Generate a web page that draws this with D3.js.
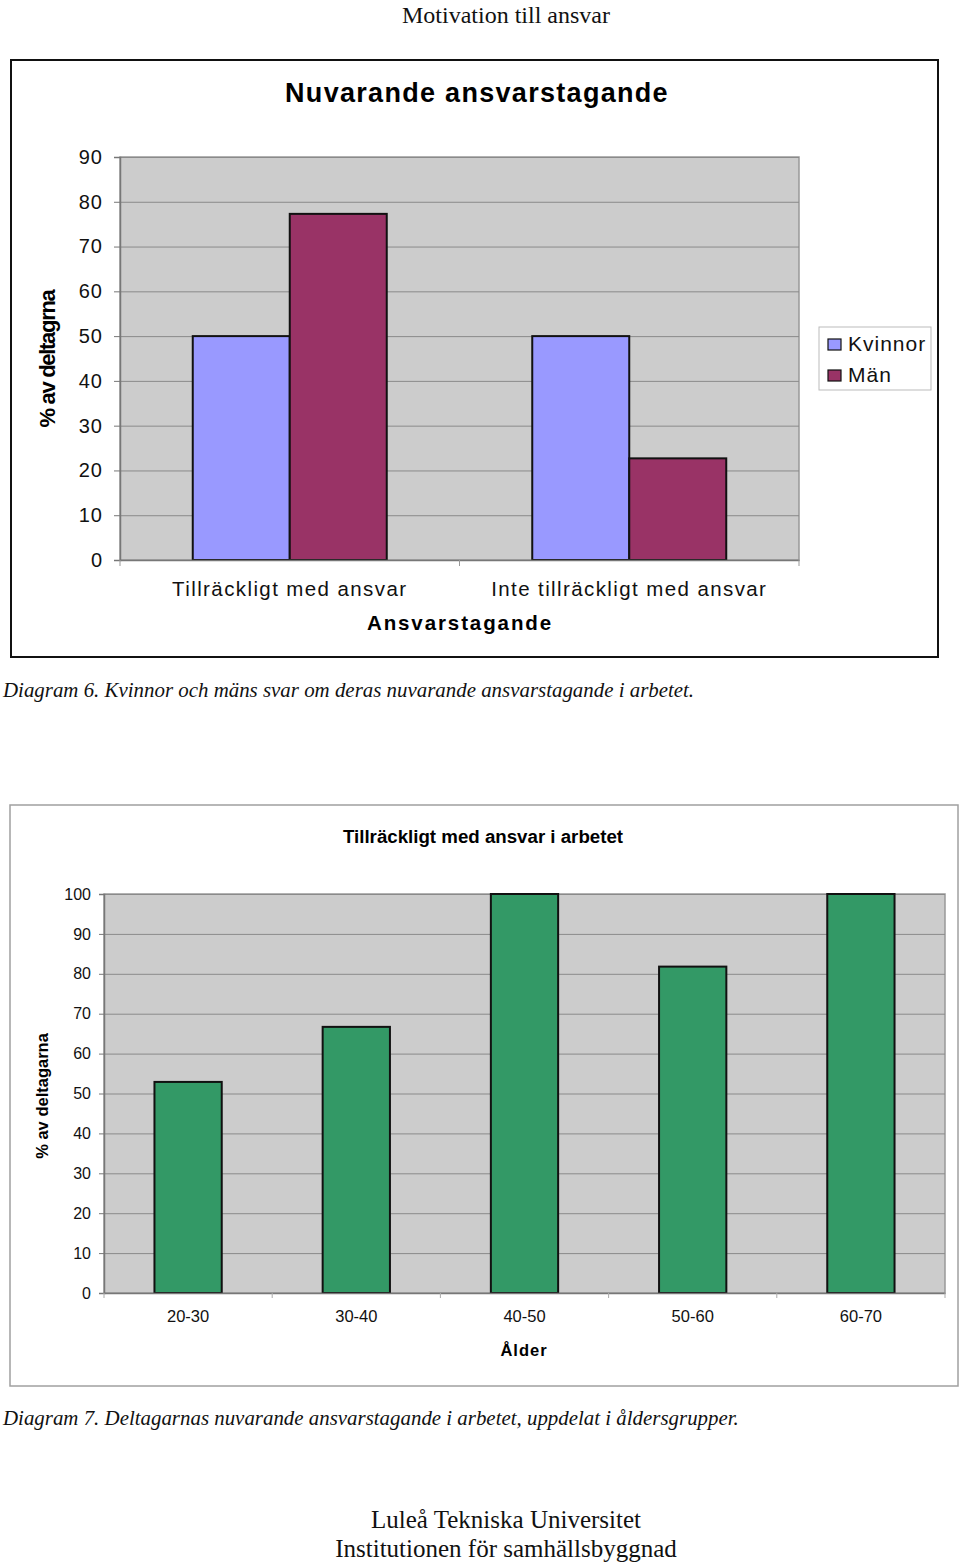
<!DOCTYPE html>
<html><head><meta charset="utf-8">
<script src="https://cdn.jsdelivr.net/npm/d3@7"></script>
<style>
html,body{margin:0;padding:0;background:#fff;}
svg{display:block;}
</style></head>
<body>
<svg id="page" width="960" height="1563"></svg>
<script>
// ---- Data ----
const chart1Categories = ["Tillräckligt med ansvar", "Inte tillräckligt med ansvar"];
const chart1Series = ["Kvinnor", "Män"];
const kvinnorValues = [50, 50];
const manValues = [77.3, 22.7];
const chart1Ticks = [0, 10, 20, 30, 40, 50, 60, 70, 80, 90];

const chart2Categories = ["20-30", "30-40", "40-50", "50-60", "60-70"];
const chart2Values = [52.9, 66.7, 100, 81.8, 100];
const chart2Ticks = [0, 10, 20, 30, 40, 50, 60, 70, 80, 90, 100];

const colors = {Kvinnor: "#9999FF", "Män": "#993366", green: "#339966"};

const svg = d3.select("#page");
const serif = "'Liberation Serif','Times New Roman',serif";
const sans = "'Liberation Sans',Arial,sans-serif";

// Page header
svg.append("text").attr("x", 506).attr("y", 23).attr("text-anchor", "middle")
  .attr("font-family", serif).attr("font-size", 24).attr("fill", "#111").text("Motivation till ansvar");

// ================= Chart 1 =================
const c1 = svg.append("g");
c1.append("rect").attr("x", 11).attr("y", 60).attr("width", 927).attr("height", 597)
  .attr("fill", "#fff").attr("stroke", "#111").attr("stroke-width", 2);

c1.append("text").attr("x", 477).attr("y", 102).attr("text-anchor", "middle")
  .attr("font-family", sans).attr("font-weight", "bold").attr("font-size", 27)
  .attr("letter-spacing", 1.3).text("Nuvarande ansvarstagande");

const p1 = {l: 120, r: 799, t: 157, b: 560};
const y1 = d3.scaleLinear().domain([0, 90]).range([p1.b, p1.t]);
const x1 = d3.scaleBand().domain(chart1Categories).range([p1.l, p1.r]).padding(0);
const xs1 = d3.scaleBand().domain(chart1Series).range([0, x1.bandwidth()]).paddingInner(0).paddingOuter(0.75);

c1.append("rect").attr("x", p1.l).attr("y", p1.t).attr("width", p1.r - p1.l).attr("height", p1.b - p1.t)
  .attr("fill", "#CCCCCC").attr("stroke", "#999").attr("stroke-width", 1.5);

// gridlines
c1.append("g").attr("transform", `translate(${p1.l},0)`)
  .call(d3.axisLeft(y1).tickValues(chart1Ticks).tickSize(-(p1.r - p1.l)).tickFormat(""))
  .call(g => g.select(".domain").remove())
  .call(g => g.selectAll("line").attr("stroke", "#8a8a8a").attr("stroke-width", 1));

// bars
const rows1 = chart1Categories.map((c, i) => ({cat: c, vals: [
  {s: "Kvinnor", v: kvinnorValues[i]}, {s: "Män", v: manValues[i]}]}));
const grp1 = c1.selectAll(".grp").data(rows1).join("g")
  .attr("transform", d => `translate(${x1(d.cat)},0)`);
grp1.selectAll("rect").data(d => d.vals).join("rect")
  .attr("x", d => xs1(d.s)).attr("width", xs1.bandwidth())
  .attr("y", d => y1(d.v)).attr("height", d => y1(0) - y1(d.v))
  .attr("fill", d => colors[d.s]).attr("stroke", "#111").attr("stroke-width", 2);

// y axis
const ya1 = c1.append("g").attr("transform", `translate(${p1.l},0)`)
  .call(d3.axisLeft(y1).tickValues(chart1Ticks).tickSize(6).tickPadding(11));
ya1.select(".domain").attr("stroke", "#777").attr("stroke-width", 1.5);
ya1.selectAll("line").attr("stroke", "#777");
ya1.selectAll("text").attr("font-family", sans).attr("font-size", 20).attr("fill", "#111")
  .attr("letter-spacing", 1);

// x axis
const xa1 = c1.append("g").attr("transform", `translate(0,${p1.b})`)
  .call(d3.axisBottom(x1).tickSize(0).tickPadding(21));
xa1.select(".domain").attr("stroke", "#777").attr("stroke-width", 1.5);
xa1.selectAll("text").attr("font-family", sans).attr("font-size", 20.5).attr("fill", "#111")
  .attr("letter-spacing", 1.4);
// category separator ticks
c1.append("g").selectAll("line").data([p1.l, x1(chart1Categories[1]), p1.r]).join("line")
  .attr("x1", d => d).attr("x2", d => d).attr("y1", p1.b).attr("y2", p1.b + 6)
  .attr("stroke", "#999");

c1.append("text").attr("x", 460).attr("y", 630).attr("text-anchor", "middle")
  .attr("font-family", sans).attr("font-weight", "bold").attr("font-size", 20.5)
  .attr("letter-spacing", 1.9).text("Ansvarstagande");

c1.append("text").attr("transform", "translate(55,359) rotate(-90)").attr("text-anchor", "middle")
  .attr("font-family", sans).attr("font-weight", "bold").attr("font-size", 22)
  .attr("letter-spacing", -1.3).text("% av deltagrna");

// legend
const lg = c1.append("g");
lg.append("rect").attr("x", 819).attr("y", 327).attr("width", 112).attr("height", 63)
  .attr("fill", "#fff").attr("stroke", "#bbb").attr("stroke-width", 1);
chart1Series.forEach((s, i) => {
  lg.append("rect").attr("x", 828).attr("y", 339 + i * 31).attr("width", 13).attr("height", 11)
    .attr("fill", colors[s]).attr("stroke", "#111").attr("stroke-width", 1.2);
  lg.append("text").attr("x", 848).attr("y", 351 + i * 31)
    .attr("font-family", sans).attr("font-size", 21).attr("fill", "#111").attr("letter-spacing", 1).text(s);
});

// caption 1
svg.append("text").attr("x", 3).attr("y", 697).attr("font-family", serif).attr("font-style", "italic")
  .attr("font-size", 20.9).attr("fill", "#111")
  .text("Diagram 6. Kvinnor och mäns svar om deras nuvarande ansvarstagande i arbetet.");

// ================= Chart 2 =================
const c2 = svg.append("g");
c2.append("rect").attr("x", 10).attr("y", 805).attr("width", 948).attr("height", 581)
  .attr("fill", "#fff").attr("stroke", "#a0a0a0").attr("stroke-width", 1.5);

c2.append("text").attr("x", 483).attr("y", 843).attr("text-anchor", "middle")
  .attr("font-family", sans).attr("font-weight", "bold").attr("font-size", 18.7)
  .text("Tillräckligt med ansvar i arbetet");

const p2 = {l: 104, r: 945, t: 894, b: 1293};
const y2 = d3.scaleLinear().domain([0, 100]).range([p2.b, p2.t]);
const x2 = d3.scaleBand().domain(chart2Categories).range([p2.l, p2.r]).paddingInner(0.6).paddingOuter(0.3);
const xc2 = d3.scaleBand().domain(chart2Categories).range([p2.l, p2.r]).padding(0);

c2.append("rect").attr("x", p2.l).attr("y", p2.t).attr("width", p2.r - p2.l).attr("height", p2.b - p2.t)
  .attr("fill", "#CCCCCC").attr("stroke", "#999").attr("stroke-width", 1.5);

c2.append("g").attr("transform", `translate(${p2.l},0)`)
  .call(d3.axisLeft(y2).tickValues(chart2Ticks).tickSize(-(p2.r - p2.l)).tickFormat(""))
  .call(g => g.select(".domain").remove())
  .call(g => g.selectAll("line").attr("stroke", "#8a8a8a").attr("stroke-width", 1));

c2.selectAll(".bar").data(chart2Categories.map((c, i) => ({c, v: chart2Values[i]}))).join("rect")
  .attr("x", d => x2(d.c)).attr("width", x2.bandwidth())
  .attr("y", d => y2(d.v)).attr("height", d => y2(0) - y2(d.v))
  .attr("fill", colors.green).attr("stroke", "#111").attr("stroke-width", 2);

const ya2 = c2.append("g").attr("transform", `translate(${p2.l},0)`)
  .call(d3.axisLeft(y2).tickValues(chart2Ticks).tickSize(5).tickPadding(8));
ya2.select(".domain").attr("stroke", "#777").attr("stroke-width", 1.5);
ya2.selectAll("line").attr("stroke", "#777");
ya2.selectAll("text").attr("font-family", sans).attr("font-size", 16).attr("fill", "#111");

const xa2 = c2.append("g").attr("transform", `translate(0,${p2.b})`)
  .call(d3.axisBottom(xc2).tickSize(0).tickPadding(17));
xa2.select(".domain").attr("stroke", "#777").attr("stroke-width", 1.5);
xa2.selectAll("text").attr("font-family", sans).attr("font-size", 16.5).attr("fill", "#111");
c2.append("g").selectAll("line")
  .data(chart2Categories.map(c => xc2(c)).concat([p2.r])).join("line")
  .attr("x1", d => d).attr("x2", d => d).attr("y1", p2.b).attr("y2", p2.b + 5)
  .attr("stroke", "#aaa");

c2.append("text").attr("x", 524).attr("y", 1356).attr("text-anchor", "middle")
  .attr("font-family", sans).attr("font-weight", "bold").attr("font-size", 16.5)
  .attr("letter-spacing", 1).text("Ålder");

c2.append("text").attr("transform", "translate(48,1096) rotate(-90)").attr("text-anchor", "middle")
  .attr("font-family", sans).attr("font-weight", "bold").attr("font-size", 16.5)
  .text("% av deltagarna");

svg.append("text").attr("x", 3).attr("y", 1425).attr("font-family", serif).attr("font-style", "italic")
  .attr("font-size", 20.9).attr("fill", "#111")
  .text("Diagram 7. Deltagarnas nuvarande ansvarstagande i arbetet, uppdelat i åldersgrupper.");

// footer
svg.append("text").attr("x", 506).attr("y", 1528).attr("text-anchor", "middle")
  .attr("font-family", serif).attr("font-size", 25).attr("fill", "#111").text("Luleå Tekniska Universitet");
svg.append("text").attr("x", 506).attr("y", 1557).attr("text-anchor", "middle")
  .attr("font-family", serif).attr("font-size", 25).attr("fill", "#111").text("Institutionen för samhällsbyggnad");
</script>
</body></html>
